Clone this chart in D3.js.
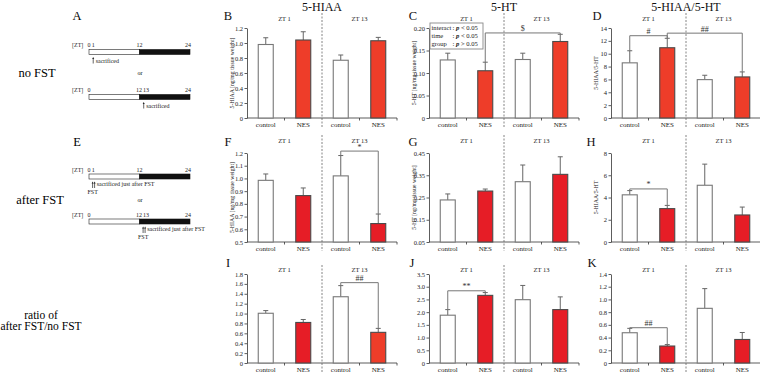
<!DOCTYPE html>
<html>
<head>
<meta charset="utf-8">
<script src="https://cdn.jsdelivr.net/npm/d3@7"></script>
<style>
body { margin: 0; background: #fff; }
svg { display: block; font-family: "Liberation Serif", "DejaVu Serif", serif; }
</style>
</head>
<body>
<svg id="fig" width="760" height="373"></svg>
<script>
// categories
const groups = ["control", "NES", "control", "NES"]
const zts = ["ZT 1", "ZT 13"]

// no FST (mean, SEM)
const hiaaNo = [0.98, 1.04, 0.77, 1.03], hiaaNoErr = [0.09, 0.11, 0.07, 0.045]
const htNo = [0.129, 0.105, 0.130, 0.170], htNoErr = [0.015, 0.019, 0.014, 0.016]
const ratNo = [8.58, 10.93, 5.97, 6.39], ratNoErr = [1.88, 1.47, 0.68, 0.78]
// after FST
const hiaaFst = [0.985, 0.865, 1.02, 0.645], hiaaFstErr = [0.05, 0.06, 0.16, 0.075]
const htFst = [0.239, 0.279, 0.321, 0.354], htFstErr = [0.027, 0.009, 0.075, 0.079]
const ratFst = [4.24, 3.0, 5.1, 2.43], ratFstErr = [0.38, 0.29, 1.9, 0.71]
// ratio after FST / no FST
const hiaaRel = [1.006, 0.82, 1.34, 0.62], hiaaRelErr = [0.054, 0.06, 0.225, 0.08]
const htRel = [1.88, 2.66, 2.49, 2.1], htRelErr = [0.22, 0.11, 0.56, 0.5]
const ratRel = [0.476, 0.267, 0.86, 0.37], ratRelErr = [0.069, 0.023, 0.31, 0.11]

// tick labels
const ticksB = [0, 0.2, 0.4, 0.6, 0.8, 1.0, 1.2]
const ticksC = [0, 0.05, 0.10, 0.15, 0.20]
const ticksD = [0, 2, 4, 6, 8, 10, 12, 14]
const ticksF = [0.5, 0.6, 0.7, 0.8, 0.9, 1.0, 1.1, 1.2]
const ticksG = [0.05, 0.15, 0.25, 0.35, 0.45]
const ticksH = [0, 2, 4, 6, 8]
const ticksI = [0, 0.2, 0.4, 0.6, 0.8, 1.0, 1.2, 1.4, 1.6, 1.8]
const ticksJ = [0, 0.5, 1.0, 1.5, 2.0, 2.5, 3.0, 3.5]
const ticksK = [0, 0.2, 0.4, 0.6, 0.8, 1.0, 1.2, 1.4]

// significance brackets: [from, to, level, mark]
const sigC = [[1, 3, 0.189, "$"]]
const sigD = [[0, 1, 12.8, "#"], [1, 3, 13.2, "##"]]
const sigF = [[2, 3, 1.215, "*"]]
const sigH = [[0, 1, 4.77, "*"]]
const sigI = [[2, 3, 1.625, "##"]]
const sigJ = [[0, 1, 2.84, "**"]]
const sigK = [[0, 1, 0.555, "##"]]

const svg = d3.select("#fig")
const rowTop = [28, 153, 274], rowBot = [118, 242, 363]
const dashTop = [13, 135, 265]
const letterY = [20, 146, 267]
const ztY = [21, 143, 272]
const plotW = 150, barW = 15
const redA = "#ee3d29", redB = "#e61d26"

const f1 = d3.format(".1f"), f2 = d3.format(".2f")
const fmt1 = d => d == 0 ? "0" : f1(d)
const fmt2 = d => d == 0 ? "0" : f2(d)

let panels = [
  {L: "B", lx: 228, x0: 247, row: 0, v: hiaaNo, e: hiaaNoErr, dom: [0, 1.2], t: ticksB, f: fmt1, yl: "5-HIAA [ng/mg tissue weight]", red: [redA, redA], sig: []},
  {L: "C", lx: 413, x0: 429, row: 0, v: htNo, e: htNoErr, dom: [0, 0.2], t: ticksC, f: fmt2, yl: "5-HT [ng/mg tissue weight]", red: [redA, redA], sig: sigC},
  {L: "D", lx: 597, x0: 611, row: 0, v: ratNo, e: ratNoErr, dom: [0, 14], t: ticksD, f: d3.format("d"), yl: "5-HIAA/5-HT", red: [redA, redA], sig: sigD},
  {L: "F", lx: 228, x0: 247, row: 1, v: hiaaFst, e: hiaaFstErr, dom: [0.5, 1.2], t: ticksF, f: f1, yl: "5-HIAA [ng/mg tissue weight]", red: [redB, redB], sig: sigF},
  {L: "G", lx: 413, x0: 429, row: 1, v: htFst, e: htFstErr, dom: [0.05, 0.45], t: ticksG, f: f2, yl: "5-HT [ng/mg tissue weight]", red: [redB, redB], sig: []},
  {L: "H", lx: 591, x0: 611, row: 1, v: ratFst, e: ratFstErr, dom: [0, 8], t: ticksH, f: d3.format("d"), yl: "5-HIAA/5-HT", red: [redB, redB], sig: sigH},
  {L: "I", lx: 228, x0: 247, row: 2, v: hiaaRel, e: hiaaRelErr, dom: [0, 1.8], t: ticksI, f: fmt1, yl: "", red: [redB, redA], sig: sigI},
  {L: "J", lx: 412, x0: 429, row: 2, v: htRel, e: htRelErr, dom: [0, 3.5], t: ticksJ, f: fmt1, yl: "", red: [redB, redB], sig: sigJ},
  {L: "K", lx: 592, x0: 611, row: 2, v: ratRel, e: ratRelErr, dom: [0, 1.4], t: ticksK, f: fmt1, yl: "", red: [redB, redB], sig: sigK}
]

let drawPanel = (p) => {
  let top = rowTop[p.row], bot = rowBot[p.row]
  let y = d3.scaleLinear().domain(p.dom).range([bot, top])
  let x = d3.scaleBand().domain(d3.range(4)).range([p.x0, p.x0 + plotW])
  let cx = (i) => x(i) + x.bandwidth() / 2
  let g = svg.append("g")

  // y axis
  let ya = g.append("g")
    .attr("transform", "translate(" + p.x0 + ",0)")
    .call(d3.axisLeft(y).tickValues(p.t).tickFormat(p.f).tickSize(2.5).tickSizeOuter(0).tickPadding(1.5))
  ya.attr("font-family", null)
  ya.selectAll("text").attr("font-size", 6.5).attr("fill", "#222")
  ya.selectAll("line, path").attr("stroke", "#333").attr("stroke-width", 0.8)

  if (p.yl) {
    g.append("text")
      .attr("transform", "translate(" + (p.x0 - 13) + "," + ((top + bot) / 2) + ") rotate(-90)")
      .attr("text-anchor", "middle")
      .attr("font-size", 5.8)
      .attr("fill", "#222")
      .text(p.yl)
  }

  // x axis line with ticks between groups
  g.append("line")
    .attr("x1", p.x0).attr("x2", p.x0 + plotW)
    .attr("y1", bot).attr("y2", bot)
    .attr("stroke", "#333").attr("stroke-width", 0.8)
  g.selectAll(".xt").data([1, 3, 4]).enter().append("line")
    .attr("x1", (d) => d == 4 ? p.x0 + plotW : x(d))
    .attr("x2", (d) => d == 4 ? p.x0 + plotW : x(d))
    .attr("y1", bot).attr("y2", bot + 2.5)
    .attr("stroke", "#333").attr("stroke-width", 0.8)
  g.selectAll(".xl").data(groups).enter().append("text")
    .attr("x", (d, i) => cx(i)).attr("y", bot + 8.5)
    .attr("text-anchor", "middle").attr("font-size", 7).attr("fill", "#222")
    .text((d) => d)

  // dashed separator
  g.append("line")
    .attr("x1", x(2)).attr("x2", x(2))
    .attr("y1", dashTop[p.row]).attr("y2", bot + 9)
    .attr("stroke", "#666").attr("stroke-width", 0.8).attr("stroke-dasharray", "2,1.5")

  // ZT labels
  g.selectAll(".zt").data(zts).enter().append("text")
    .attr("x", (d, i) => x(i * 2 + 1)).attr("y", ztY[p.row])
    .attr("text-anchor", "middle").attr("font-size", 6.5).attr("fill", "#222")
    .text((d) => d)

  // panel letter
  g.append("text").attr("x", p.lx).attr("y", letterY[p.row])
    .attr("text-anchor", "middle").attr("font-size", 12.5).attr("fill", "#111")
    .text(p.L)

  // error bars
  p.v.forEach((v, i) => {
    let c = cx(i)
    g.append("line").attr("x1", c).attr("x2", c).attr("y1", y(v)).attr("y2", y(v + p.e[i]))
      .attr("stroke", "#666").attr("stroke-width", 1)
    g.append("line").attr("x1", c - 2.5).attr("x2", c + 2.5).attr("y1", y(v + p.e[i])).attr("y2", y(v + p.e[i]))
      .attr("stroke", "#666").attr("stroke-width", 1)
  })

  // bars
  g.selectAll(".bar").data(p.v).enter().append("rect")
    .attr("x", (d, i) => cx(i) - barW / 2)
    .attr("y", (d) => y(d))
    .attr("width", barW)
    .attr("height", (d) => bot - y(d))
    .attr("fill", (d, i) => i % 2 ? p.red[i >> 1] : "#fff")
    .attr("stroke", (d, i) => i % 2 ? "#4a4a4a" : "#777")
    .attr("stroke-width", 1.1)

  // significance brackets
  p.sig.forEach((s) => {
    let [a, b, lev, mark] = s
    let yl = y(lev)
    g.append("path")
      .attr("d", "M" + cx(a) + "," + y(p.v[a] + p.e[a]) + "V" + yl + "H" + cx(b) + "V" + y(p.v[b] + p.e[b]))
      .attr("fill", "none").attr("stroke", "#777").attr("stroke-width", 1)
    g.append("text")
      .attr("x", (cx(a) + cx(b)) / 2).attr("y", yl - 1.5)
      .attr("text-anchor", "middle").attr("font-size", 8).attr("fill", "#333")
      .text(mark)
  })
}

panels.forEach(drawPanel)

// column titles
const titles = ["5-HIAA", "5-HT", "5-HIAA/5-HT"]
svg.selectAll(".title").data(titles).enter().append("text")
  .attr("x", (d, i) => [322, 504, 686][i]).attr("y", 11)
  .attr("text-anchor", "middle").attr("font-size", 12).attr("fill", "#111")
  .text((d) => d)

// statistics box in C
let box = svg.append("g")
box.append("rect").attr("x", 430).attr("y", 23).attr("width", 53).attr("height", 26)
  .attr("fill", "#fff").attr("stroke", "#888").attr("stroke-width", 0.9)
const statNames = ["interact", "time", "group"]
const statSigns = ["<", "<", ">"]
statNames.forEach((n, i) => {
  let t = box.append("text").attr("y", 30 + i * 8.2).attr("font-size", 6.6).attr("fill", "#222")
  t.append("tspan").attr("x", 431.5).text(n)
  t.append("tspan").attr("x", 452.5).text(":")
  t.append("tspan").attr("x", 456).attr("font-weight", "bold").attr("font-style", "italic").text("p")
  t.append("tspan").text(" " + statSigns[i] + " 0.05")
})

// row labels
svg.append("text").attr("x", 37).attr("y", 77).attr("text-anchor", "middle").attr("font-size", 12.5).text("no FST")
svg.append("text").attr("x", 40).attr("y", 204).attr("text-anchor", "middle").attr("font-size", 12.5).text("after FST")
svg.append("text").attr("x", 41).attr("y", 319).attr("text-anchor", "middle").attr("font-size", 11.5).text("ratio of")
svg.append("text").attr("x", 41).attr("y", 330).attr("text-anchor", "middle").attr("font-size", 11.5).text("after FST/no FST")

// panel A / E letters
svg.append("text").attr("x", 77).attr("y", 20).attr("text-anchor", "middle").attr("font-size", 12.5).text("A")
svg.append("text").attr("x", 77).attr("y", 146).attr("text-anchor", "middle").attr("font-size", 12.5).text("E")

// time lines
const zt = d3.scaleLinear().domain([0, 24]).range([89, 190])

let timeline = (barY, sacZT, afterFST, split) => {
  let g = svg.append("g").attr("font-size", 6).attr("fill", "#222")
  g.append("text").attr("x", 72).attr("y", barY - 2.5).text("[ZT]")
  g.append("text").attr("x", zt(0)).attr("y", barY - 2.5).attr("text-anchor", "middle").text("0")
  if (split) {
    g.append("text").attr("x", zt(12) + 2.5).attr("y", barY - 2.5).attr("text-anchor", "end").text("12")
    g.append("text").attr("x", zt(13) - 0.8).attr("y", barY - 2.5).text("13")
  } else {
    g.append("text").attr("x", zt(1)).attr("y", barY - 2.5).attr("text-anchor", "middle").text("1")
    g.append("text").attr("x", zt(12)).attr("y", barY - 2.5).attr("text-anchor", "middle").text("12")
  }
  g.append("text").attr("x", zt(24) - 2).attr("y", barY - 2.5).attr("text-anchor", "middle").text("24")
  g.append("rect").attr("x", zt(0)).attr("y", barY).attr("width", zt(12) - zt(0)).attr("height", 5)
    .attr("fill", "#fff").attr("stroke", "#222").attr("stroke-width", 0.6)
  g.append("rect").attr("x", zt(12)).attr("y", barY).attr("width", zt(24) - zt(12)).attr("height", 5)
    .attr("fill", "#111").attr("stroke", "#111").attr("stroke-width", 0.6)

  let ax = zt(sacZT), a0 = barY + 7.5, a1 = barY + 14
  let arrow = (xx) => {
    g.append("line").attr("x1", xx).attr("x2", xx).attr("y1", a0 + 1.5).attr("y2", a1)
      .attr("stroke", "#222").attr("stroke-width", 0.7)
    g.append("path").attr("d", "M" + (xx - 1) + "," + (a0 + 2) + "L" + xx + "," + a0 + "L" + (xx + 1) + "," + (a0 + 2) + "Z")
      .attr("fill", "#222")
  }
  if (afterFST) {
    arrow(ax - 0.6)
    arrow(ax + 1.4)
    g.append("text").attr("x", ax + 3.5).attr("y", barY + 12).text("sacrificed just after FST")
    g.append("text").attr("x", ax - 0.5).attr("y", barY + 20).attr("text-anchor", "middle").text("FST")
  } else {
    arrow(ax)
    g.append("text").attr("x", ax + 2.5).attr("y", barY + 13).text("sacrificed")
  }
}

timeline(49.5, 1, false, false)
timeline(94.5, 13, false, true)
timeline(174, 1, true, false)
timeline(219, 13, true, true)
svg.append("text").attr("x", 140).attr("y", 75).attr("text-anchor", "middle").attr("font-size", 6).text("or")
svg.append("text").attr("x", 140).attr("y", 202).attr("text-anchor", "middle").attr("font-size", 6).text("or")
</script>
</body>
</html>
